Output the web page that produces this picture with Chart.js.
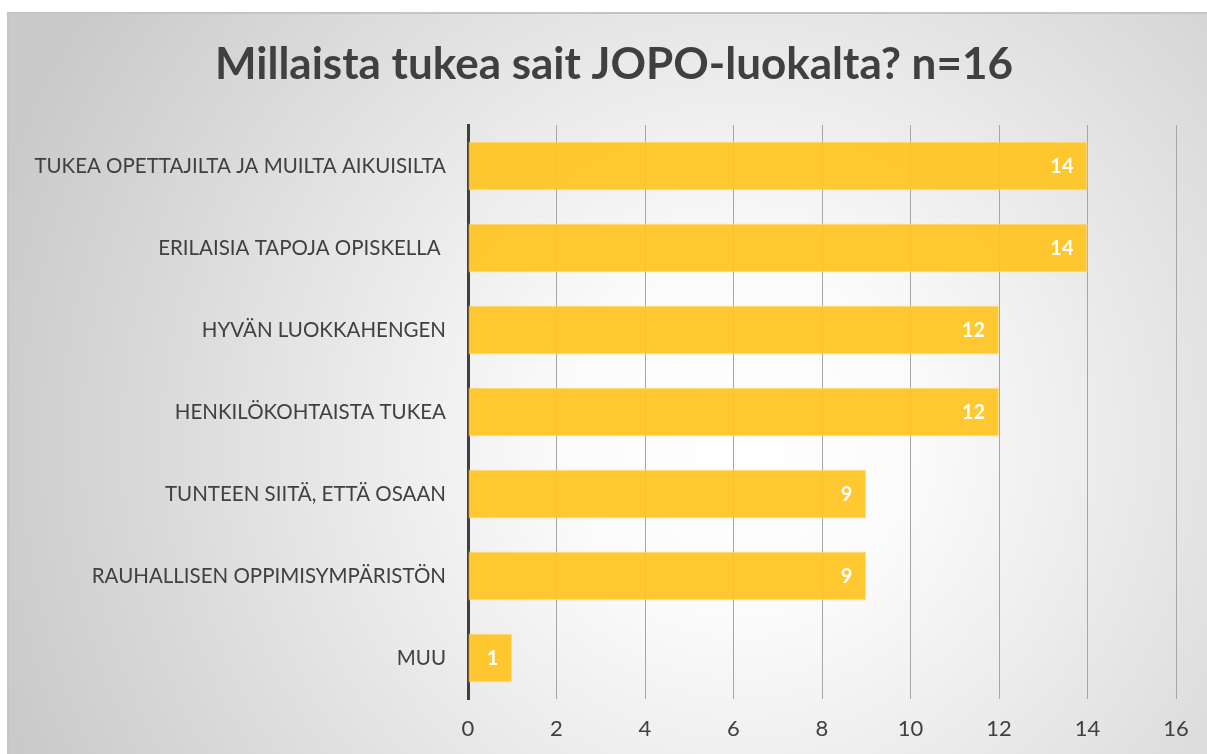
<!DOCTYPE html>
<html>
<head>
<meta charset="utf-8">
<script src="https://cdn.jsdelivr.net/npm/chart.js@4"></script>
<style>
  html, body { margin: 0; padding: 0; background: #fff; }
  canvas { display: block; }
</style>
</head>
<body>
<canvas id="chart-tuki" width="1207" height="754"></canvas>
<script>
const otsikko = "Millaista tukea sait JOPO-luokalta? n=16";
const vaihtoehdot = [
  "TUKEA OPETTAJILTA JA MUILTA AIKUISILTA",
  "ERILAISIA TAPOJA OPISKELLA ",
  "HYVÄN LUOKKAHENGEN",
  "HENKILÖKOHTAISTA TUKEA",
  "TUNTEEN SIITÄ, ETTÄ OSAAN",
  "RAUHALLISEN OPPIMISYMPÄRISTÖN",
  "MUU",
];
const vastaukset = [14, 14, 12, 12, 9, 9, 1];
const akseliMin = 0;
const akseliMax = 16;
const akseliVali = 2;

const ctx = document.querySelector("#chart-tuki").getContext("2d");

// tausta: valkoinen reuna + harmaa liukuväri laatikko, otsikko itse piirrettynä
const taustaLaatikko = {
  id: "taustaLaatikko",
  beforeDraw(chart) {
    const { ctx, width, height } = chart;
    ctx.save();
    ctx.fillStyle = "#ffffff";
    ctx.fillRect(0, 0, width, height);
    const g = ctx.createRadialGradient(740, 440, 0, 740, 440, 790);
    g.addColorStop(0, "#ffffff");
    g.addColorStop(0.22, "#fbfbfb");
    g.addColorStop(1, "#c9c9c9");
    ctx.fillStyle = g;
    ctx.fillRect(8, 13, width, height);
    ctx.strokeStyle = "#c4c4c4";
    ctx.lineWidth = 2;
    ctx.beginPath();
    ctx.moveTo(8, height);
    ctx.lineTo(8, 13);
    ctx.lineTo(width, 13);
    ctx.stroke();

    ctx.fillStyle = "#404040";
    ctx.font = "bold 44px Lato";
    ctx.textAlign = "center";
    ctx.textBaseline = "alphabetic";
    ctx.fillText(otsikko, 614, 79);
    ctx.restore();
  },
};

// arvot palkkien sisään oikeaan päähän
const arvoTekstit = {
  id: "arvoTekstit",
  afterDatasetsDraw(chart) {
    const { ctx } = chart;
    const meta = chart.getDatasetMeta(0);
    ctx.save();
    ctx.fillStyle = "#ffffff";
    ctx.font = "bold 20px Lato";
    ctx.textAlign = "right";
    ctx.textBaseline = "middle";
    meta.data.forEach((bar, i) => {
      ctx.fillText(String(vastaukset[i]), bar.x - 14, bar.y + 1);
    });
    ctx.restore();
  },
};

new Chart(ctx, {
  type: "bar",
  data: {
    labels: vaihtoehdot,
    datasets: [
      {
        data: vastaukset,
        backgroundColor: "rgba(255, 197, 36, 0.94)",
        borderColor: "rgba(255, 226, 140, 0.9)",
        borderWidth: 1,
        borderSkipped: "start",
        barPercentage: 0.6,
        categoryPercentage: 1,
      },
    ],
  },
  options: {
    indexAxis: "y",
    responsive: false,
    animation: false,
    layout: {
      padding: { top: 125, left: 16, right: 31, bottom: 10 },
    },
    scales: {
      x: {
        min: akseliMin,
        max: akseliMax,
        afterFit(scale) {
          scale.height = 45;
        },
        ticks: {
          stepSize: akseliVali,
          color: "#404040",
          font: { family: "Lato", size: 22 },
          padding: 17,
        },
        grid: {
          color: "#a6a6a6",
          lineWidth: 1,
          drawTicks: false,
        },
        border: { display: false },
      },
      y: {
        z: 1,
        afterFit(scale) {
          scale.width = 452;
        },
        ticks: {
          color: "#404040",
          font: { family: "Lato", size: 20.5 },
          padding: 22,
        },
        grid: { display: false, drawTicks: false },
        border: { display: true, color: "#404040", width: 3 },
      },
    },
    plugins: {
      legend: { display: false },
      tooltip: { enabled: false },
      title: { display: false },
    },
  },
  plugins: [taustaLaatikko, arvoTekstit],
});
</script>
</body>
</html>
